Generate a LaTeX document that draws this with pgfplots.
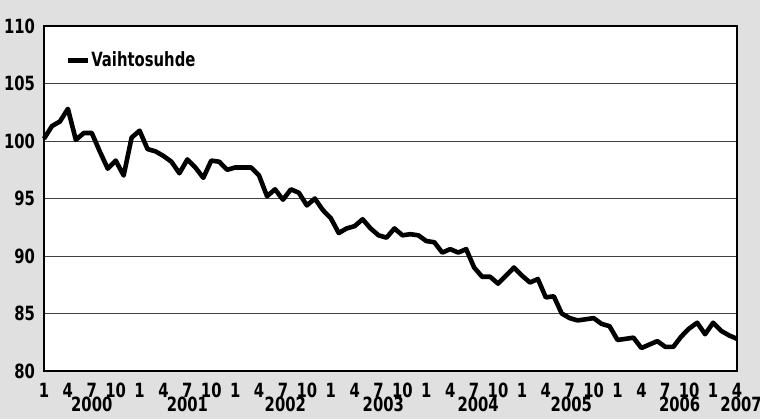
\documentclass[border=0pt]{standalone}
\usepackage{fontspec}
\setmainfont{DejaVu Sans Condensed}[FakeStretch=0.84]
\usepackage{pgfplots}
\pgfplotsset{compat=1.18}
\usepackage{pgfplotstable}
\pgfplotstableread{
i v
0 100.2
1 101.3
2 101.7
3 102.8
4 100.1
5 100.7
6 100.7
7 99.1
8 97.6
9 98.3
10 97.0
11 100.3
12 100.9
13 99.3
14 99.1
15 98.7
16 98.2
17 97.2
18 98.4
19 97.7
20 96.8
21 98.3
22 98.2
23 97.5
24 97.7
25 97.7
26 97.7
27 97.0
28 95.2
29 95.8
30 94.9
31 95.8
32 95.5
33 94.4
34 95.0
35 94.0
36 93.3
37 92.0
38 92.4
39 92.6
40 93.2
41 92.4
42 91.8
43 91.6
44 92.4
45 91.8
46 91.9
47 91.8
48 91.3
49 91.2
50 90.3
51 90.6
52 90.3
53 90.6
54 89.0
55 88.2
56 88.2
57 87.6
58 88.3
59 89.0
60 88.3
61 87.7
62 88.0
63 86.4
64 86.5
65 85.0
66 84.6
67 84.4
68 84.5
69 84.6
70 84.1
71 83.9
72 82.7
73 82.8
74 82.9
75 82.0
76 82.3
77 82.6
78 82.1
79 82.1
80 83.0
81 83.7
82 84.2
83 83.2
84 84.2
85 83.5
86 83.1
87 82.8
}\datatable
\begin{document}
\begin{tikzpicture}[yearlab/.style={anchor=north, inner sep=0pt, font=\bfseries\fontsize{9.8}{10}\selectfont, yshift=-13pt}]
\fill[black!12] (0,0) rectangle (380pt,209.5pt);
\useasboundingbox (0,0) rectangle (380pt,209.5pt);
\begin{axis}[
  at={(22pt,24pt)}, anchor=south west,
  scale only axis, width=346.5pt, height=172.5pt,
  xmin=0, xmax=87, ymin=80, ymax=110,
  clip=false,
  axis background/.style={fill=white},
  axis line style={line width=0.9pt},
  xtick={0,3,...,87},
  xticklabels={1,4,7,10,1,4,7,10,1,4,7,10,1,4,7,10,1,4,7,10,1,4,7,10,1,4,7,10,1,4},
  ytick={80,85,...,110},
  ymajorgrids, major grid style={black!75, line width=0.5pt},
  major tick length=0pt,
  tick label style={font=\bfseries\fontsize{9.8}{10}\selectfont},
  /pgf/number format/assume math mode=true,
  yticklabel style={xshift=-1pt},
  xticklabel style={yshift=-2.5pt},
  legend style={at={(0.03,0.901)}, anchor=west, draw=none, fill=none,
    inner sep=0pt, font=\bfseries\fontsize{9.8}{10}\selectfont, nodes={inner sep=0.6pt}},
  legend image code/.code={\draw[line width=2.5pt] (0pt,0pt) -- (10pt,0pt);},
  legend cell align=left,
]
\addplot[black, line width=2.3pt, line join=round] table[x=i, y=v] {\datatable};
\addlegendentry{Vaihtosuhde}
\node[yearlab] at (axis cs:6,80) {2000};
\node[yearlab] at (axis cs:18,80) {2001};
\node[yearlab] at (axis cs:30.3,80) {2002};
\node[yearlab] at (axis cs:42.6,80) {2003};
\node[yearlab] at (axis cs:54.5,80) {2004};
\node[yearlab] at (axis cs:66.2,80) {2005};
\node[yearlab] at (axis cs:79.8,80) {2006};
\node[yearlab, anchor=north east] at (axis cs:90.15,80) {2007};
\pgfplotsinvokeforeach{11.5,23.5,35.5,47.7,59.7,71.6,84.7}{
  \draw[line width=0.5pt] (axis cs:#1,80) ++(0,-15pt) -- ++(0,-5pt);
}
\end{axis}
\end{tikzpicture}
\end{document}
